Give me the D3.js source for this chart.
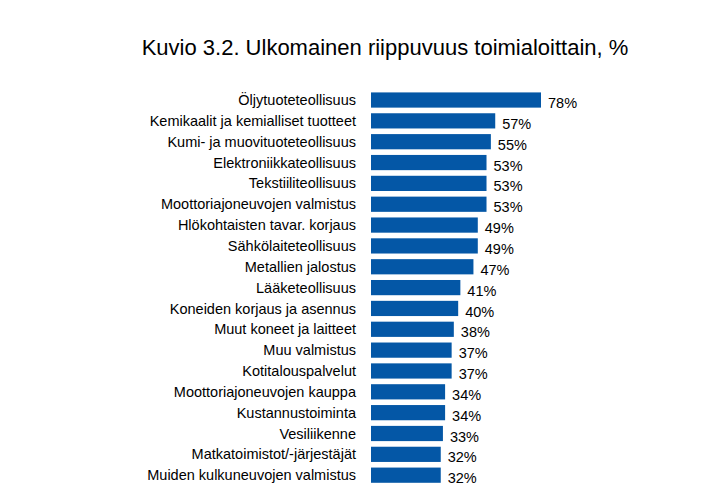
<!DOCTYPE html>
<html><head><meta charset="utf-8">
<script src="https://cdn.jsdelivr.net/npm/d3@7"></script>
<style>body{margin:0;background:#fff}svg{font-family:"Liberation Sans",Arial,sans-serif}</style>
</head><body><div class="viz"></div>
<script>
const categories = ["Öljytuoteteollisuus","Kemikaalit ja kemialliset tuotteet","Kumi- ja muovituoteteollisuus","Elektroniikkateollisuus","Tekstiiliteollisuus","Moottoriajoneuvojen valmistus","Hlökohtaisten tavar. korjaus","Sähkölaiteteollisuus","Metallien jalostus","Lääketeollisuus","Koneiden korjaus ja asennus","Muut koneet ja laitteet","Muu valmistus","Kotitalouspalvelut","Moottoriajoneuvojen kauppa","Kustannustoiminta","Vesiliikenne","Matkatoimistot/-järjestäjät","Muiden kulkuneuvojen valmistus"]
const values = [78,57,55,53,53,53,49,49,47,41,40,38,37,37,34,34,33,32,32]

const width = 720, height = 487
const data = categories.map((c, i) => ({cat: c, val: values[i]}))

const svg = d3.select(".viz").append("svg")
    .attr("width", width).attr("height", height)

const x = d3.scaleLinear().domain([0, 78]).range([371, 541])
const y = d3.scaleBand().domain(categories).range([89.6, 485.6]).paddingInner(0.27).paddingOuter(0.135)

svg.append("text")
    .attr("x", 385).attr("y", 55)
    .attr("text-anchor", "middle")
    .attr("font-size", 22).attr("fill", "#000")
    .text("Kuvio 3.2. Ulkomainen riippuvuus toimialoittain, %")

svg.append("g").attr("fill", "#0457a6")
    .selectAll("rect").data(data).join("rect")
    .attr("x", x(0)).attr("y", d => y(d.cat))
    .attr("width", d => x(d.val) - x(0)).attr("height", y.bandwidth())

svg.append("g").attr("font-size", 14.5).attr("fill", "#000")
    .selectAll("text").data(data).join("text")
    .attr("x", 356).attr("y", d => y(d.cat) + y.bandwidth() / 2)
    .attr("dy", "0.35em").attr("text-anchor", "end")
    .text(d => d.cat)

svg.append("g").attr("font-size", 14.5).attr("fill", "#000")
    .selectAll("text").data(data).join("text")
    .attr("x", d => x(d.val) + 7).attr("y", d => y(d.cat) + y.bandwidth() / 2 + 3)
    .attr("dy", "0.35em")
    .text(d => d.val + "%")
</script></body></html>
